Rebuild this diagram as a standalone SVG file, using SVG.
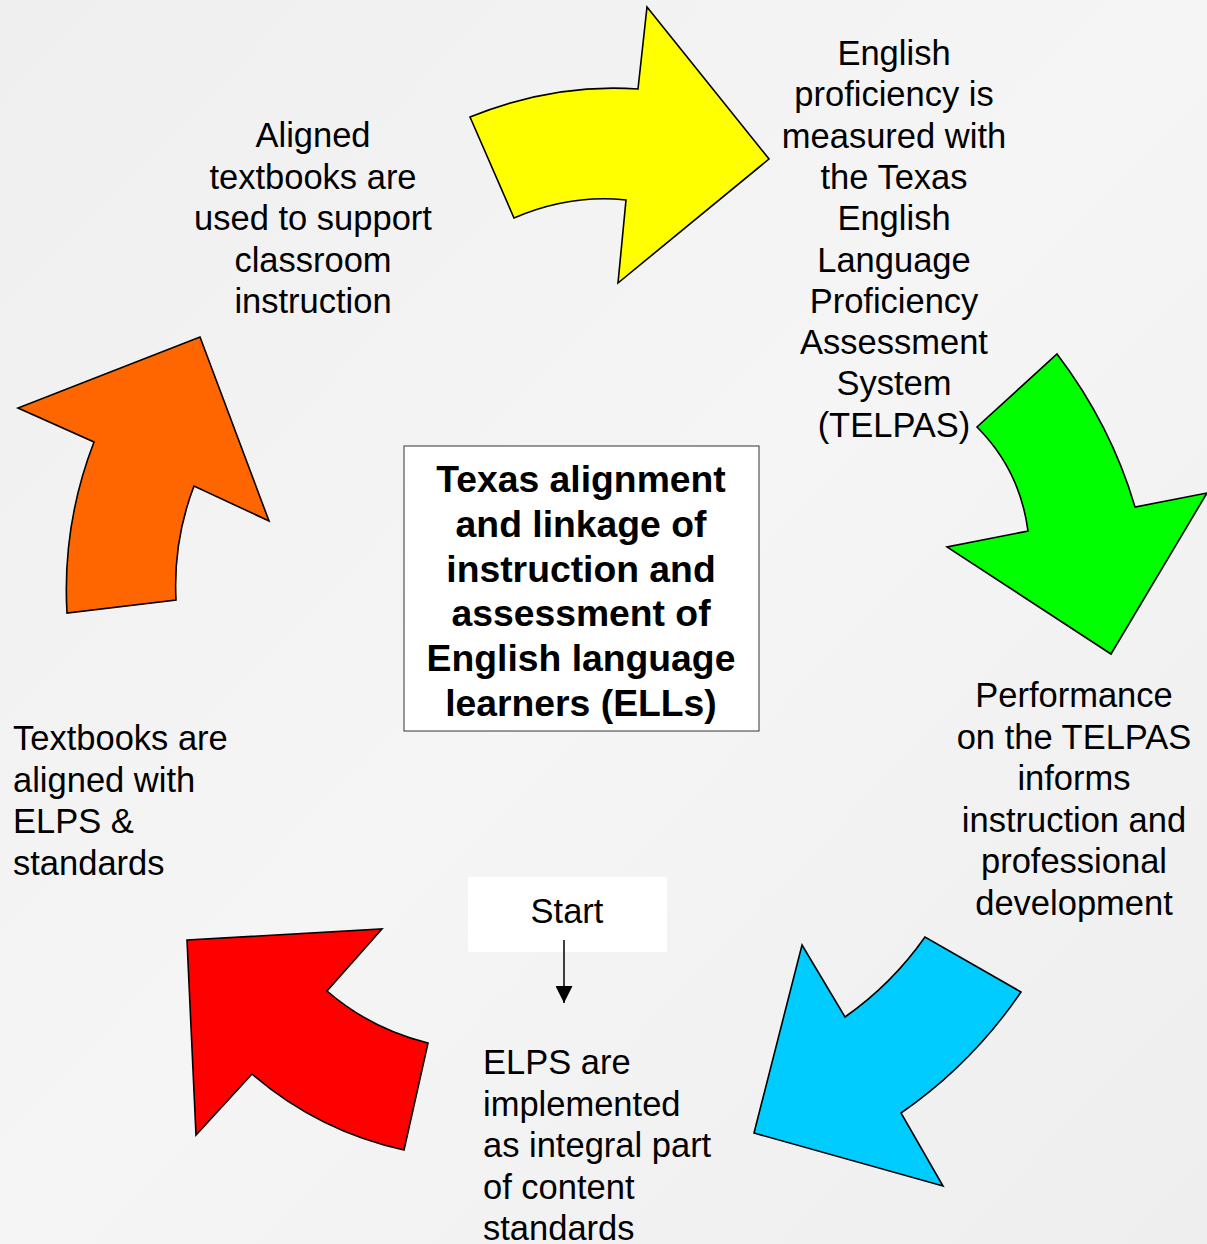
<svg xmlns="http://www.w3.org/2000/svg" width="1207" height="1244" viewBox="0 0 1207 1244">
<defs>
<style>
.lbl{font-family:"Liberation Sans",Arial,sans-serif;font-size:34.5px;fill:#000}
.ctr{text-anchor:middle}
.title{font-family:"Liberation Sans",Arial,sans-serif;font-size:37.3px;font-weight:bold;fill:#000;text-anchor:middle}
.arr{stroke:#000;stroke-width:1.6;stroke-linejoin:miter}
</style>
<linearGradient id="bg" x1="0" y1="0" x2="1" y2="1">
<stop offset="0" stop-color="#efefef"/>
<stop offset="0.5" stop-color="#f5f5f5"/>
<stop offset="1" stop-color="#eeeeee"/>
</linearGradient>
<marker id="ah" viewBox="0 0 10 10" refX="10" refY="5" markerWidth="17" markerHeight="17" markerUnits="userSpaceOnUse" orient="auto">
<path d="M0,0 L10,5 L0,10 Z" fill="#000"/>
</marker>
</defs>
<rect width="1207" height="1244" fill="url(#bg)"/>

<g id="arrow-yellow">
<path class="arr" fill="#ffff00" d="M470,117 Q554,83 638,89 L647,7 L769,159 L618,283 L626,200 Q570,194 514,218 Z"/>
</g>
<g id="arrow-green">
<path class="arr" fill="#00ff00" d="M1057,354 Q1111,425 1135,507 L1207,493 L1111,654 L947,547 L1028,531 Q1020,470 977,427 Z"/>
</g>
<g id="arrow-cyan">
<path class="arr" fill="#00ccff" d="M802,945 L845,1017 Q892,984 925,937 L1021,992 Q972,1064 901,1113 L943,1186 L754,1133 Z"/>
</g>
<g id="arrow-red">
<path class="arr" fill="#ff0000" d="M187,940 L382,929 L327,991 Q371,1029 428,1043 L404,1150 Q318,1131 252,1074 L196,1135 Z"/>
</g>
<g id="arrow-orange">
<path class="arr" fill="#ff6600" d="M200,337 L269,521 L194,486 Q173,541 176,600 L67,613 Q62,525 94,442 L18,408 Z"/>
</g>

<g id="center">
<rect x="404" y="446" width="355" height="285" fill="#fff" stroke="#333" stroke-width="1"/>
<text class="title"><tspan x="581" y="492">Texas alignment</tspan><tspan x="581" y="537">and linkage of</tspan><tspan x="581" y="582">instruction and</tspan><tspan x="581" y="626">assessment of</tspan><tspan x="581" y="671">English language</tspan><tspan x="581" y="716">learners (ELLs)</tspan></text>
</g>

<g id="node-aligned">
<text class="lbl ctr"><tspan x="313" y="147">Aligned</tspan><tspan x="313" y="188.5">textbooks are</tspan><tspan x="313" y="230">used to support</tspan><tspan x="313" y="271.5">classroom</tspan><tspan x="313" y="313">instruction</tspan></text>
</g>

<g id="node-english">
<text class="lbl ctr"><tspan x="894" y="65">English</tspan><tspan x="894" y="106.3">proficiency is</tspan><tspan x="894" y="147.6">measured with</tspan><tspan x="894" y="188.9">the Texas</tspan><tspan x="894" y="230.2">English</tspan><tspan x="894" y="271.5">Language</tspan><tspan x="894" y="312.8">Proficiency</tspan><tspan x="894" y="354.1">Assessment</tspan><tspan x="894" y="395.4">System</tspan><tspan x="894" y="436.7">(TELPAS)</tspan></text>
</g>

<g id="node-performance">
<text class="lbl ctr"><tspan x="1074" y="707">Performance</tspan><tspan x="1074" y="748.5">on the TELPAS</tspan><tspan x="1074" y="790">informs</tspan><tspan x="1074" y="831.5">instruction and</tspan><tspan x="1074" y="873">professional</tspan><tspan x="1074" y="914.5">development</tspan></text>
</g>

<g id="node-textbooks">
<text class="lbl"><tspan x="13" y="750">Textbooks are</tspan><tspan x="13" y="791.5">aligned with</tspan><tspan x="13" y="833">ELPS &amp;</tspan><tspan x="13" y="874.5">standards</tspan></text>
</g>

<g id="node-elps">
<text class="lbl"><tspan x="483" y="1074">ELPS are</tspan><tspan x="483" y="1115.5">implemented</tspan><tspan x="483" y="1157">as integral part</tspan><tspan x="483" y="1198.5">of content</tspan><tspan x="483" y="1240">standards</tspan></text>
</g>

<g id="node-start">
<rect x="468" y="877" width="199" height="75" fill="#fff"/>
<text class="lbl ctr" x="567" y="923">Start</text>
</g>

<g id="connectors">
<line x1="564" y1="940" x2="564" y2="1003" stroke="#000" stroke-width="1.5" marker-end="url(#ah)"/>
</g>
</svg>
